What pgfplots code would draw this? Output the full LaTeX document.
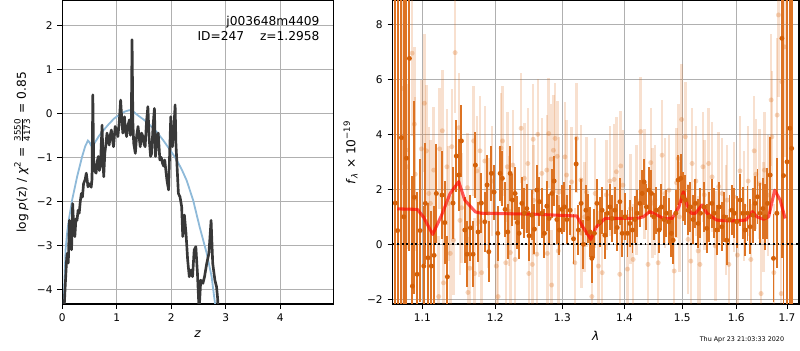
\documentclass[border=0pt]{standalone}
\usepackage{pgfplots}
\pgfplotsset{compat=1.18}
\usepackage{pgfplotstable}
\usepackage{fontspec}
\setmainfont{DejaVu Sans}
\definecolor{pzline}{rgb}{0.22,0.22,0.22}
\definecolor{pzblue}{rgb}{0.56,0.73,0.85}
\definecolor{orbar}{rgb}{0.867,0.451,0.137}
\definecolor{ormark}{rgb}{0.831,0.376,0.031}
\definecolor{gridc}{rgb}{0.69,0.69,0.69}

\pgfplotstableread{
x y
0.02 -4.8
0.05 -4.0
0.08 -3.3
0.09 -3.18
0.11 -3.4
0.13 -2.43
0.15 -2.8
0.17 -3.1
0.19 -2.05
0.21 -2.6
0.23 -2.8
0.25 -2.4
0.27 -2.43
0.29 -2.2
0.31 -2.27
0.33 -2.0
0.35 -1.82
0.37 -1.9
0.39 -1.6
0.42 -1.5
0.44 -1.36
0.46 -1.55
0.47 -1.67
0.49 -1.62
0.51 -1.6
0.53 -1.68
0.545 -1.5
0.56 0.42
0.575 -1.06
0.59 -1.3
0.62 -1.36
0.64 -1.1
0.66 -0.98
0.68 -1.3
0.70 -1.21
0.715 -0.7
0.73 -0.27
0.745 -1.0
0.76 -1.44
0.78 -0.91
0.80 -0.7
0.82 -0.45
0.84 -0.6
0.86 -0.72
0.88 -0.5
0.90 -0.38
0.92 -0.6
0.94 -0.76
0.97 -0.3
1.00 -0.4
1.02 -0.53
1.045 -0.2
1.07 0.3
1.09 -0.1
1.11 -0.45
1.14 -0.08
1.16 -0.4
1.18 -0.53
1.20 -0.3
1.23 -0.15
1.25 -0.5
1.265 -0.3
1.28 1.67
1.295 -0.2
1.31 -0.68
1.34 -0.91
1.365 -0.5
1.39 -0.30
1.41 -0.55
1.43 -0.76
1.455 -0.45
1.48 -0.53
1.50 -0.7
1.52 -0.76
1.545 -0.2
1.57 0.15
1.595 -0.6
1.62 -0.98
1.64 -0.91
1.665 -0.3
1.69 0.11
1.71 -0.98
1.735 -0.6
1.76 -0.45
1.79 -1.06
1.815 -1.0
1.84 -1.14
1.86 -1.2
1.88 -1.06
1.90 -1.3
1.92 -1.52
1.95 -1.74
1.97 -0.9
1.99 -0.08
2.005 -0.5
2.02 -0.76
2.045 -0.4
2.07 0.19
2.085 -0.7
2.10 -1.06
2.13 -1.82
2.16 -1.9
2.19 -2.12
2.21 -2.8
2.24 -2.31
2.27 -2.73
2.30 -3.33
2.33 -3.71
2.36 -3.56
2.39 -3.71
2.42 -3.1
2.45 -3.03
2.48 -3.64
2.51 -4.5
2.54 -3.79
2.58 -3.86
2.61 -3.71
2.65 -3.41
2.69 -3.18
2.73 -2.43
2.76 -3.41
2.80 -3.79
2.83 -3.94
2.85 -4.2
2.87 -4.8
}\pzdata

\pgfplotstableread{
x y
0.02 -4.6
0.04 -3.8
0.06 -3.1
0.09 -2.7
0.12 -2.42
0.18 -1.97
0.27 -1.45
0.36 -1.0
0.42 -0.75
0.47 -0.62
0.50 -0.66
0.54 -0.76
0.58 -0.7
0.67 -0.52
0.76 -0.38
0.85 -0.25
0.95 -0.12
1.05 -0.03
1.15 0.04
1.23 0.07
1.30 0.04
1.40 -0.06
1.50 -0.15
1.61 -0.27
1.73 -0.42
1.85 -0.61
1.97 -0.82
2.10 -1.06
2.20 -1.3
2.28 -1.52
2.40 -1.97
2.52 -2.58
2.65 -3.18
2.74 -3.71
2.80 -4.3
2.83 -4.7
}\priordata

\pgfplotstableread{
x y e
1.0650 1.50 12
1.0680 0.50 12
1.0728 3.88 10
1.0760 1.00 10
1.0792 3.13 9
1.0831 6.76 7
1.0870 -1.52 4.0
1.0895 1.71 3.5
1.0931 -1.09 3.0
1.0970 0.50 2.6
1.1018 -0.79 2.2
1.1039 1.49 2.2
1.1075 -0.49 2.0
1.1119 -0.79 2.0
1.1155 -0.40 1.8
1.1185 1.85 1.8
1.1261 1.79 1.6
1.1298 0.79 1.5
1.1333 -1.18 1.5
1.1410 1.50 1.3
1.1455 3.21 1.3
1.1488 2.52 1.3
1.1524 3.76 1.3
1.1571 0.52 1.2
1.1603 -0.36 1.2
1.1649 0.60 1.2
1.1686 -0.36 1.2
1.1718 2.88 1.2
1.1756 0.45 1.1
1.1802 1.50 1.1
1.1850 0.82 1.1
1.1883 2.16 1.1
1.1907 -0.27 1.1
1.1944 2.58 1.0
1.1983 1.90 1.0
1.2036 0.40 1.0
1.2069 2.58 1.0
1.2102 2.40 1.0
1.2141 1.27 1.0
1.2180 0.45 1.0
1.2214 2.58 1.0
1.2248 1.61 0.95
1.2287 1.85 0.95
1.2321 0.79 0.95
1.2346 0.40 0.95
1.2386 1.49 0.95
1.2424 1.13 0.9
1.2460 1.30 0.9
1.2494 0.31 0.9
1.2535 1.06 0.9
1.2574 0.55 0.9
1.2610 1.97 0.9
1.2649 1.55 0.9
1.2685 1.13 0.9
1.2725 0.40 0.9
1.2761 1.39 0.9
1.2796 0.94 0.9
1.2838 1.85 0.9
1.2873 2.30 0.9
1.2915 0.90 0.9
1.2955 0.52 0.9
1.2992 1.27 0.9
1.3033 1.36 0.9
1.3070 0.90 0.9
1.3122 1.24 0.9
1.3174 0.20 0.9
1.3216 2.92 1.0
1.3252 0.52 0.9
1.3295 1.49 0.9
1.3332 0.00 0.9
1.3370 1.24 0.9
1.3402 0.94 0.9
1.3439 0.45 0.9
1.3466 -0.51 0.9
1.3508 0.40 0.9
1.3547 1.49 0.9
1.3593 0.82 0.9
1.3633 1.24 0.85
1.3677 0.33 0.85
1.3719 1.13 0.85
1.3759 1.36 0.85
1.3797 0.94 0.85
1.3841 1.24 0.85
1.3879 0.61 0.85
1.3924 1.55 0.85
1.3962 0.40 0.85
1.4007 1.00 0.85
1.4051 0.40 0.85
1.4091 0.76 0.85
1.4135 0.52 0.85
1.4175 0.90 0.85
1.4214 1.13 0.85
1.4260 1.49 0.85
1.4299 1.85 0.85
1.4333 2.27 0.85
1.4373 1.36 0.85
1.4414 1.97 0.85
1.4459 1.85 0.85
1.4500 1.00 0.85
1.4545 1.24 0.85
1.4592 0.52 0.85
1.4632 1.36 0.85
1.4679 0.90 0.85
1.4720 1.13 0.85
1.4762 0.82 0.85
1.4808 0.40 0.85
1.4838 0.15 0.85
1.4886 1.13 0.85
1.4927 2.34 0.9
1.4975 2.40 0.9
1.5016 1.73 0.9
1.5058 1.61 0.9
1.5106 1.24 0.9
1.5148 1.36 0.9
1.5197 0.90 0.9
1.5238 1.49 0.9
1.5288 0.76 0.9
1.5330 1.13 0.9
1.5397 1.36 0.9
1.5447 0.58 0.9
1.5495 1.00 0.9
1.5539 1.49 0.9
1.5582 1.13 0.9
1.5633 0.52 0.9
1.5676 1.36 0.9
1.5726 0.64 0.9
1.5769 1.00 0.9
1.5820 0.15 0.9
1.5870 0.90 0.9
1.5915 1.24 0.9
1.5965 1.13 0.9
1.6011 0.82 0.95
1.6074 1.61 0.95
1.6126 1.13 0.95
1.6170 0.52 0.95
1.6215 1.13 1.0
1.6267 0.64 1.0
1.6320 1.06 1.0
1.6365 1.49 1.0
1.6409 1.73 1.0
1.6462 1.13 1.1
1.6515 1.30 1.1
1.6561 1.00 1.2
1.6606 1.49 1.3
1.6660 2.52 1.4
1.6726 -0.51 1.6
1.6794 1.13 2.0
1.6895 7.49 8
1.6927 2.50 8
1.7000 3.00 10
1.7058 4.22 10
1.7093 3.49 10
}\darkdata

\pgfplotstableread{
x y e
1.0751 5.67 3.5
1.0757 1.03 3.5
1.0788 3.43 3.0
1.0800 2.82 3.0
1.0866 6.95 3.0
1.0895 4.37 2.8
1.0906 2.55 2.8
1.0987 3.47 2.5
1.1026 5.13 2.5
1.1053 3.40 2.4
1.1084 1.85 2.4
1.1105 1.49 2.3
1.1150 2.70 2.3
1.1216 -1.90 2.2
1.1229 3.47 2.2
1.1265 4.13 2.2
1.1280 -1.40 2.2
1.1327 2.82 2.1
1.1350 1.49 2.1
1.1372 -0.33 2.1
1.1393 3.55 2.1
1.1416 0.15 2.0
1.1438 6.97 2.2
1.1491 4.24 2.0
1.1505 0.87 2.0
1.1527 1.33 2.0
1.1608 2.06 2.0
1.1615 -1.75 2.0
1.1640 -0.87 2.0
1.1694 3.76 2.0
1.1708 -1.06 2.0
1.1738 2.67 2.0
1.1770 0.82 2.0
1.1783 3.40 2.0
1.1806 -1.03 2.0
1.1851 3.03 2.0
1.1900 1.13 2.0
1.1951 2.30 2.0
1.2015 -0.79 2.0
1.2040 -1.90 2.0
1.2082 3.50 2.0
1.2104 3.76 2.0
1.2151 -0.67 2.0
1.2173 2.82 2.0
1.2200 1.20 2.0
1.2218 -0.30 2.0
1.2254 2.88 2.0
1.2287 -0.55 2.0
1.2376 4.22 2.0
1.2424 2.40 2.0
1.2475 2.94 2.0
1.2490 -1.06 2.0
1.2543 -0.73 2.0
1.2555 3.82 2.0
1.2560 1.60 2.0
1.2610 -0.36 2.0
1.2625 4.00 2.0
1.2685 2.58 2.0
1.2761 2.70 2.0
1.2770 -0.33 2.0
1.2790 4.03 2.0
1.2827 3.10 2.0
1.2835 -1.48 2.0
1.2862 3.42 2.0
1.2888 3.85 2.0
1.2922 3.20 2.0
1.2937 -0.24 2.0
1.2950 1.90 2.0
1.3040 3.18 2.0
1.3066 2.52 2.0
1.3144 2.27 2.0
1.3195 -0.67 2.0
1.3222 3.85 2.0
1.3290 2.34 2.0
1.3300 0.40 2.0
1.3350 1.00 2.0
1.3380 1.90 2.0
1.3466 -1.90 2.0
1.3520 1.85 2.0
1.3572 -0.79 2.0
1.3633 -1.03 2.0
1.3700 1.80 2.0
1.3759 2.30 2.0
1.3830 2.36 2.0
1.3866 2.64 2.0
1.3922 -1.09 2.0
1.3938 2.85 2.0
1.3975 2.15 2.0
1.4051 -0.90 2.0
1.4100 1.30 2.0
1.4146 -0.55 2.0
1.4200 1.61 2.0
1.4275 4.10 2.0
1.4343 2.20 2.0
1.4400 -0.73 2.0
1.4447 2.97 2.0
1.4480 1.50 2.0
1.4517 1.61 2.0
1.4575 -0.67 2.0
1.4645 3.24 2.0
1.4693 1.85 2.0
1.4764 1.97 2.0
1.4858 -0.97 2.0
1.4899 2.24 2.0
1.4929 3.12 2.0
1.4950 1.00 2.0
1.4989 4.54 2.0
1.5056 3.91 2.0
1.5106 0.18 2.0
1.5154 -0.61 2.0
1.5178 2.94 2.0
1.5246 2.30 2.0
1.5288 -0.24 2.0
1.5320 -0.73 2.0
1.5375 2.82 2.0
1.5400 1.80 2.0
1.5480 2.94 2.0
1.5544 2.45 2.0
1.5606 -0.06 2.0
1.5668 2.10 2.0
1.5733 1.85 2.0
1.5800 0.90 2.0
1.5828 1.61 2.0
1.5859 -0.73 2.0
1.5955 1.73 2.0
1.6021 -0.39 2.0
1.6071 2.67 2.0
1.6150 1.40 2.0
1.6228 2.30 2.0
1.6281 -0.55 2.0
1.6346 3.40 2.0
1.6380 2.55 2.0
1.6446 2.20 2.0
1.6480 -1.79 2.0
1.6530 1.00 2.0
1.6546 2.70 2.1
1.6614 1.79 2.2
1.6680 5.25 2.4
1.6694 3.91 2.4
1.6734 -1.03 2.5
1.6801 4.70 2.8
1.6827 8.34 3.0
1.6881 -1.79 3.0
1.6895 5.91 3.5
1.6949 7.18 4.0
}\lightdata

\pgfplotstableread{
x y
1.0675 1.29
1.0934 1.27
1.1013 1.00
1.1136 0.36
1.1257 1.07
1.1370 1.85
1.1488 2.28
1.1570 1.61
1.1718 1.18
1.1800 1.13
1.2508 1.10
1.3226 1.03
1.3320 0.64
1.3450 0.18
1.3540 0.64
1.3680 0.94
1.4206 0.94
1.4320 1.00
1.4430 1.19
1.4520 1.10
1.4670 0.94
1.4820 0.94
1.4940 1.36
1.5020 1.91
1.5090 1.40
1.5160 1.13
1.5240 1.13
1.5360 1.43
1.5450 1.13
1.5630 0.88
1.5880 0.85
1.6185 0.88
1.6310 1.19
1.6400 1.00
1.6530 0.91
1.6630 1.00
1.6750 1.97
1.6860 1.61
1.6960 0.94
}\modeldata

\pgfplotsset{
  common/.style={
    scale only axis,
    grid=major,
    major grid style={color=gridc, line width=0.7pt},
    axis line style={line width=0.8pt},
    tick pos=left,
    tick align=outside,
    major tick length=3.5pt,
    every tick/.style={black, line width=0.7pt},
    minor tick num=0,
    ticklabel style={font=\fontsize{7.6}{8}\selectfont},
    label style={font=\fontsize{8.8}{10}\selectfont},
  }
}

\begin{document}
\begin{tikzpicture}
\useasboundingbox (0pt,0pt) rectangle (576pt,252pt);

\begin{axis}[common,
  at={(44.86pt,33.12pt)}, anchor=south west,
  width=195.1pt, height=218.2pt,
  xmin=0, xmax=4.972, ymin=-4.33, ymax=2.55,
  xtick={0,1,2,3,4}, xticklabels={0,1,2,3,4},
  ytick={-4,-3,-2,-1,0,1,2},
  yticklabels={−4,−3,−2,−1,0,1,2},
  xlabel={\textit{z}},
  ylabel={log \textit{p}(z) / \textit{χ}\textsuperscript{2} = $\frac{\mbox{\fontsize{6.3}{6.5}\selectfont 3550}}{\mbox{\fontsize{6.3}{6.5}\selectfont 4173}}$ = 0.85},
  ylabel style={yshift=-2pt},
]
\addplot[pzblue, line width=1.3pt] table[x=x,y=y] {\priordata};
\addplot[pzline, line width=1.9pt, line join=round] table[x=x,y=y] {\pzdata};
\node[anchor=north east, align=right, font=\fontsize{8.8}{10.8}\selectfont, inner sep=0pt]
  at (rel axis cs:0.95,0.95) {j003648m4409\\ID=247\hspace{1.3em}z=1.2958};
\end{axis}

\begin{axis}[common,
  at={(282.5pt,33.12pt)}, anchor=south west,
  width=292.8pt, height=218.2pt,
  xmode=log,
  xmin=1.0613, xmax=1.7244, ymin=-2.17, ymax=8.85,
  xtick={1.1,1.2,1.3,1.4,1.5,1.6,1.7},
  xticklabels={1.1,1.2,1.3,1.4,1.5,1.6,1.7},
  minor xtick={},
  ytick={-2,0,2,4,6,8},
  yticklabels={−2,0,2,4,6,8},
  xlabel={\textit{λ}},
  ylabel={\textit{f}\textsubscript{\textit{λ}} × 10\textsuperscript{−19}},
]
\addplot[only marks, mark=*, mark size=1.8pt,
  mark options={fill=orbar, draw opacity=0, fill opacity=0.3},
  error bars/.cd, y dir=both, y explicit, error mark=none,
  error bar style={line width=1.8pt, color=orbar, opacity=0.22}]
  table[x=x,y=y,y error=e] {\lightdata};
\addplot[only marks, mark=*, mark size=1.8pt,
  mark options={fill=ormark, draw opacity=0},
  error bars/.cd, y dir=both, y explicit, error mark=none,
  error bar style={line width=1.4pt, color=orbar}]
  table[x=x,y=y,y error=e] {\darkdata};
\addplot[red, line width=2.2pt, opacity=0.65, line join=round] table[x=x,y=y] {\modeldata};
\addplot[black, line width=1.4pt, dash pattern=on 1.3pt off 2.0pt] coordinates {(1.05,0) (1.75,0)};
\end{axis}

\node[font=\fontsize{4.6}{5}\selectfont] at (534.2pt,7.2pt) {Thu Apr 23 21:03:33 2020};
\end{tikzpicture}
\end{document}
